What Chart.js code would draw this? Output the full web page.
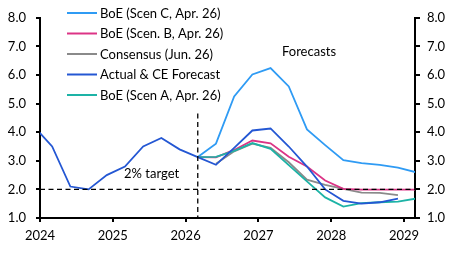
<!DOCTYPE html>
<html><head><meta charset="utf-8">
<script src="https://cdn.jsdelivr.net/npm/chart.js@4/dist/chart.umd.min.js"></script>
<style>html,body{margin:0;padding:0;background:#fff}#wrap{width:450px;height:253px}</style>
</head><body><div id="wrap"><canvas id="c" width="450" height="253"></canvas></div>
<script>
const quarters = ["Q4 2023","Q1 2024","Q2 2024","Q3 2024","Q4 2024","Q1 2025","Q2 2025","Q3 2025","Q4 2025","Q1 2026","Q2 2026","Q3 2026","Q4 2026","Q1 2027","Q2 2027","Q3 2027","Q4 2027","Q1 2028","Q2 2028","Q3 2028","Q4 2028","Q1 2029"];
const actualCE  = [4.2,3.5,2.1,2.0,2.5,2.8,3.5,3.8,3.4,3.13,2.86,3.45,4.06,4.13,3.5,2.8,2.0,1.6,1.5,1.55,1.68,null];
const scenC     = [null,null,null,null,null,null,null,null,null,3.13,3.6,5.25,6.02,6.24,5.6,4.1,3.55,3.02,2.92,2.86,2.76,2.6];
const scenB     = [null,null,null,null,null,null,null,null,null,3.13,3.12,3.38,3.71,3.61,3.14,2.8,2.31,2.02,1.99,1.99,1.99,1.99];
const consensus = [null,null,null,null,null,null,null,null,null,null,2.9,3.33,3.6,3.45,2.95,2.34,2.16,2.02,1.89,1.88,1.8,null];
const scenA     = [null,null,null,null,null,null,null,null,null,3.13,3.14,3.35,3.62,3.42,2.85,2.28,1.72,1.4,1.52,1.55,1.57,1.68];
const yearTicks = [2024,2025,2026,2027,2028,2029];
const yTicks = [1,2,3,4,5,6,7,8];
const target = 2.0;
const forecastStart = "Q1 2026";

function qx(label){const p=label.split(" ");return +p[1]+(+p[0].slice(1)-1)/4+0.167;}
function pts(arr){return quarters.map((q,i)=>({x:qx(q),y:arr[i]}));}

const FONT = "Lato";
const series = [
  {label:"BoE (Scen C, Apr. 26)", data:scenC, color:"#2f9bf4", order:4},
  {label:"BoE (Scen. B, Apr. 26)", data:scenB, color:"#dc3486", order:3},
  {label:"Consensus (Jun. 26)", data:consensus, color:"#8a8a8a", order:5},
  {label:"Actual & CE Forecast", data:actualCE, color:"#2457d3", order:1},
  {label:"BoE (Scen A, Apr. 26)", data:scenA, color:"#1db3a6", order:2}
];

const overlay = {
  id:"overlay",
  afterDatasetsDraw(chart){
    const {ctx, scales:{x,y}} = chart;
    ctx.save();
    ctx.strokeStyle="#000"; ctx.lineWidth=1.3; ctx.setLineDash([5,3.5]);
    ctx.beginPath();
    ctx.moveTo(x.left, y.getPixelForValue(target)); ctx.lineTo(x.right, y.getPixelForValue(target));
    const vx = x.getPixelForValue(qx(forecastStart));
    ctx.moveTo(vx, y.getPixelForValue(4.65)); ctx.lineTo(vx, y.bottom);
    ctx.stroke();
    ctx.setLineDash([]);
    ctx.fillStyle="#000"; ctx.font="13px "+FONT; ctx.textBaseline="middle"; ctx.textAlign="left";
    ctx.fillText("2% target", 124, 174);
    ctx.fillText("Forecasts", 282, 52);
    // legend
    series.forEach((s,i)=>{
      const yy = 13 + i*20.5;
      ctx.strokeStyle=s.color; ctx.lineWidth=2;
      ctx.beginPath(); ctx.moveTo(67,yy); ctx.lineTo(97,yy); ctx.stroke();
      ctx.fillText(s.label, 100, yy+0.5);
    });
    ctx.restore();
  }
};

new Chart(document.getElementById("c"), {
  type:"line",
  data:{datasets: series.map(s=>({label:s.label, data:pts(s.data), borderColor:s.color, backgroundColor:s.color, borderWidth:1.8, pointRadius:0, tension:0, order:s.order, spanGaps:false}))},
  options:{
    responsive:false, animation:false, devicePixelRatio:1,
    layout:{padding:{top:11,left:0,right:0,bottom:0}},
    plugins:{legend:{display:false}, tooltip:{enabled:false}},
    scales:{
      x:{type:"linear", min:2024, max:2029.151,
        afterBuildTicks(s){s.ticks=yearTicks.map(v=>({value:v}));},
        afterFit(s){s.height=35;},
        grid:{drawOnChartArea:false, drawTicks:true, tickLength:4, color:"#000", lineWidth:2},
        border:{display:true, color:"#000", width:2},
        ticks:{color:"#000", font:{family:FONT,size:13}, padding:6, maxRotation:0, callback:v=>String(v)}
      },
      y:{position:"left", min:1, max:8,
        afterBuildTicks(s){s.ticks=yTicks.map(v=>({value:v}));},
        afterFit(s){s.width=40;},
        grid:{drawOnChartArea:false, drawTicks:true, tickLength:4, color:"#000", lineWidth:2},
        border:{display:true, color:"#000", width:2},
        ticks:{color:"#000", font:{family:FONT,size:13}, padding:10, callback:v=>v.toFixed(1)}
      },
      y2:{position:"right", min:1, max:8,
        afterBuildTicks(s){s.ticks=yTicks.map(v=>({value:v}));},
        afterFit(s){s.width=35;},
        grid:{drawOnChartArea:false, drawTicks:true, tickLength:5, color:"#000", lineWidth:2},
        border:{display:true, color:"#000", width:2},
        ticks:{color:"#000", font:{family:FONT,size:13}, padding:7, callback:v=>v.toFixed(1)}
      }
    }
  },
  plugins:[overlay]
});
</script></body></html>
